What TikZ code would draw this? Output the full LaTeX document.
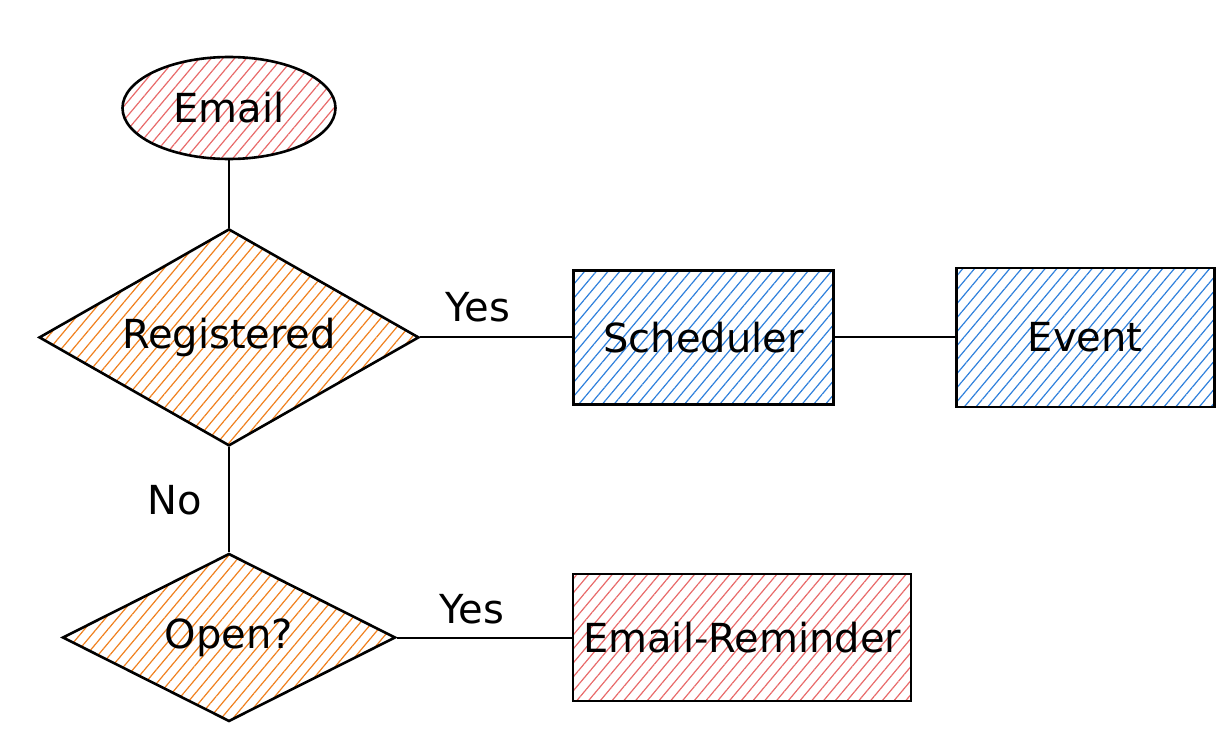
\documentclass[tikz,border=0pt]{standalone}
\usepackage{fontspec}
\setmainfont{DejaVu Sans}
\usepackage{xcolor}
\usetikzlibrary{positioning,shapes.geometric,patterns.meta}

\definecolor{hatchred}{HTML}{E86A6A}
\definecolor{hatchorange}{HTML}{F0801E}
\definecolor{hatchblue}{HTML}{2F80DC}

\begin{document}
\begin{tikzpicture}[
        x=0.5pt, y=-0.5pt,
        font=\fontsize{20}{24}\selectfont,
        hatch/.style={pattern={Lines[angle=50,distance=4.5pt,line width=0.6pt]}, pattern color=#1},
        shape box/.style={draw, line width=1.3pt, inner sep=0pt, align=center},
        circ/.style={shape box, ellipse, hatch=hatchred, minimum width=106.5pt, minimum height=51pt},
        decision/.style={shape box, diamond, aspect=2, hatch=hatchorange},
        block/.style={shape box, rectangle, hatch=#1},
        line/.style={line width=1pt},
        lbl/.style={inner sep=2pt}
    ]
        \useasboundingbox (0,0) rectangle (1228,744);
        \node[circ] (email) at (229,108) {Email};
        \node[decision, minimum width=190pt, minimum height=108.5pt, below=34pt of email] (reg) {Registered};
        \node[block=hatchblue, minimum width=130pt, minimum height=67pt, right=76pt of reg] (sched) {Scheduler};
        \node[block=hatchblue, minimum width=129pt, minimum height=69.5pt, right=60pt of sched] (event) {Event};
        \node[decision, minimum width=166.5pt, minimum height=84pt, below=52.5pt of reg] (open) {Open?};
        \node[block=hatchred, minimum width=169pt, minimum height=63.5pt, right=87.5pt of open] (remind) {Email-Reminder};
        \draw[line] (email) -- (reg);
        \draw[line] (reg) -- node[lbl, pos=0.38, above=5pt] (yesreg) {Yes} (sched);
        \draw[line] (sched) -- (event);
        \draw[line] (reg) -- node[lbl, left=11pt] (noreg) {No} (open);
        \draw[line] (open) -- node[lbl, pos=0.43, above=4pt] (yesopen) {Yes} (remind);
    \end{tikzpicture}
\end{document}
